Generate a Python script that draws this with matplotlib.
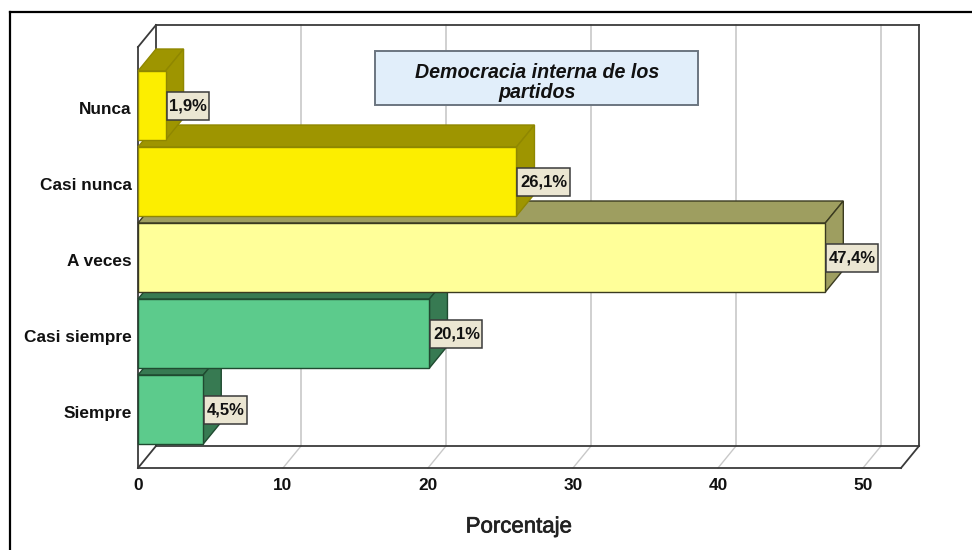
import matplotlib
matplotlib.use("Agg")
import matplotlib.patheffects as path_effects
import matplotlib.pyplot as plt
from matplotlib.lines import Line2D
from matplotlib.patches import Polygon, Rectangle
from matplotlib.transforms import IdentityTransform, ScaledTranslation

plt.rcParams["font.family"] = ["Liberation Sans", "DejaVu Sans"]

categories = ["Nunca", "Casi nunca", "A veces", "Casi siempre", "Siempre"]
percentages = [1.9, 26.1, 47.4, 20.1, 4.5]
value_labels = ["1,9%", "26,1%", "47,4%", "20,1%", "4,5%"]
x_ticks = [0, 10, 20, 30, 40, 50]
front_colors = ["#FCEE00", "#FCEE00", "#FFFF99", "#5CCB8C", "#5CCB8C"]
shade_colors = ["#9E9500", "#9E9500", "#9E9E60", "#377A52", "#377A52"]
edge_colors = ["#8F8700", "#8F8700", "#3A3A20", "#1F4A30", "#1F4A30"]

W, H = 972, 550
fig = plt.figure(figsize=(W / 100, H / 100), dpi=100)
fig.patch.set_facecolor("white")

# front plane of the 3D box, in pixels
left, right, top, bottom = 138, 901, 47, 468
ax = fig.add_axes([left / W, 1 - bottom / H, (right - left) / W, (bottom - top) / H])
ax.set_xlim(0, (right - left) / 14.5)
ax.set_ylim((bottom - 105.5) / 76, (top - 105.5) / 76)
ax.patch.set_visible(False)
for spine in ax.spines.values():
    spine.set_visible(False)

# depth of the 3D effect in data units
dx = 18 / 14.5
dy = -22 / 76
bar_h = 69 / 76
x_max = ax.get_xlim()[1]
y_low = ax.get_ylim()[0]
y_high = ax.get_ylim()[1]

grid_color = "#C8C8C8"
box_color = "#3A3A3A"

# gridlines on floor and back wall
for tick in x_ticks[1:]:
    ax.plot([tick, tick + dx], [y_low, y_low + dy], color=grid_color, lw=1, clip_on=False, zorder=1)
    ax.plot([tick + dx, tick + dx], [y_low + dy, y_high + dy], color=grid_color, lw=1.2, clip_on=False, zorder=1)

# box outline
box_lines = [
    ([0, x_max], [y_low, y_low]),
    ([0, 0], [y_low, y_high]),
    ([0, dx], [y_high, y_high + dy]),
    ([0, dx], [y_low, y_low + dy]),
    ([dx, x_max + dx], [y_high + dy, y_high + dy]),
    ([dx, x_max + dx], [y_low + dy, y_low + dy]),
    ([dx, dx], [y_low + dy, y_high + dy]),
    ([x_max + dx, x_max + dx], [y_low + dy, y_high + dy]),
    ([x_max, x_max + dx], [y_low, y_low + dy]),
]
for xs, ys in box_lines:
    ax.plot(xs, ys, color=box_color, lw=1.3, clip_on=False, zorder=2, solid_capstyle="projecting")

# lower bars first, each upper bar sits in front of the next one's top face
for i in reversed(range(len(categories))):
    value = percentages[i]
    y0 = i - bar_h / 2
    y1 = i + bar_h / 2
    z = 3 + (len(categories) - i) * 0.1
    top_face = [(0, y0), (dx, y0 + dy), (value + dx, y0 + dy), (value, y0)]
    side_face = [(value, y0), (value + dx, y0 + dy), (value + dx, y1 + dy), (value, y1)]
    ax.add_patch(Polygon(top_face, closed=True, fc=shade_colors[i], ec=edge_colors[i], lw=1, clip_on=False, zorder=z))
    ax.add_patch(Polygon(side_face, closed=True, fc=shade_colors[i], ec=edge_colors[i], lw=1, clip_on=False, zorder=z))
    ax.add_patch(Rectangle((0, y0), value, bar_h, fc=front_colors[i], ec=edge_colors[i], lw=1, clip_on=False, zorder=z))

# value labels: box is sized from the text, taller than a uniform pad would give
renderer = fig.canvas.get_renderer()
for i, label in enumerate(value_labels):
    px, py = ax.transData.transform((percentages[i], i))
    txt = ax.text(
        0, 0, label, fontsize=12, fontweight="bold", color="#111111",
        ha="center", va="center", zorder=11,
    )
    box_w = txt.get_window_extent(renderer).width + 5
    txt.set_position(ax.transData.inverted().transform((px + 1 + box_w / 2, py - 0.5)))
    ax.add_patch(Rectangle((px + 1, py - 14), box_w, 28, transform=IdentityTransform(),
                           fc="#EBE6D2", ec="#3A3A3A", lw=1.1, clip_on=False, zorder=10))

ax.set_yticks(range(len(categories)))
ax.set_yticklabels(categories, fontsize=12.4, fontweight="bold", color="#111111")
ax.set_xticks(x_ticks)
ax.set_xticklabels(x_ticks, fontsize=12.4, fontweight="bold", color="#111111")
ax.tick_params(axis="y", length=0, pad=4.5)
ax.tick_params(axis="x", length=0, pad=7)
shift_down = ScaledTranslation(0, -2 / 100, fig.dpi_scale_trans)
for tick_label in ax.get_yticklabels():
    tick_label.set_transform(tick_label.get_transform() + shift_down)

x_title = fig.text(519 / W, 1 - 527 / H, "Porcentaje", ha="center", va="center",
                   fontsize=16, color="#222222")
x_title.set_path_effects([path_effects.withStroke(linewidth=0.5, foreground="#222222")])

# title box
title_box = Rectangle((375 / W, 1 - 105 / H), 323 / W, 54 / H, transform=fig.transFigure,
                      fc="#E1EEFA", ec="#6B7580", lw=1.4, zorder=5)
fig.add_artist(title_box)
fig.text(537 / W, 1 - 82.5 / H, "Democracia interna de los\npartidos", ha="center", va="center",
         fontsize=14.1, fontweight="bold", fontstyle="italic", color="#111111",
         linespacing=1.02, zorder=6)

# outer frame, cut by the image on the right and bottom
fig.add_artist(Line2D([9.5 / W, 9.5 / W], [0, 1 - 12 / H], color="black", lw=1.6, transform=fig.transFigure))
fig.add_artist(Line2D([9.5 / W, 1], [1 - 12 / H, 1 - 12 / H], color="black", lw=1.6, transform=fig.transFigure))

fig.savefig("out.png", dpi=100)
